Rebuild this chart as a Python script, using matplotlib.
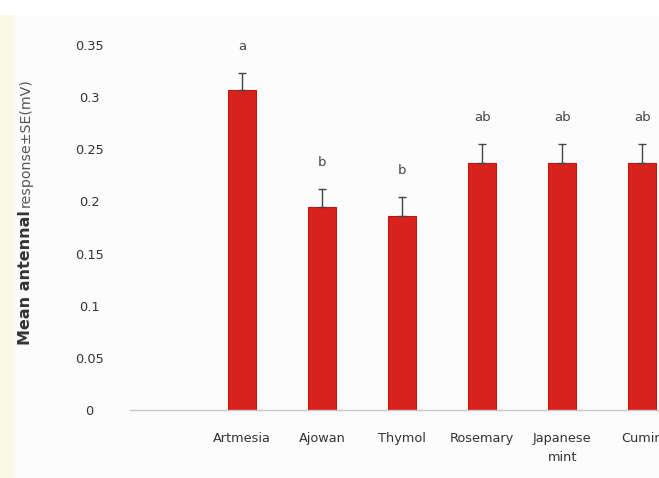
import numpy as np
import matplotlib
matplotlib.use("Agg")
import matplotlib.pyplot as plt
import matplotlib.patches as mpatches

# Mean antennal responses (EAG) to the essential oils
oils = ["Artmesia", "Ajowan", "Thymol", "Rosemary", "Japanese\nmint", "Cumin"]
response = [0.307, 0.195, 0.186, 0.237, 0.237, 0.237]
se = [0.016, 0.017, 0.018, 0.018, 0.018, 0.018]
groups = ["a", "b", "b", "ab", "ab", "ab"]
yticks = [0, 0.05, 0.1, 0.15, 0.2, 0.25, 0.3, 0.35]
ytick_labels = ["0", "0.05", "0.1", "0.15", "0.2", "0.25", "0.3", "0.35"]

plt.rcParams["font.family"] = ["DejaVu Sans"]

fig = plt.figure(figsize=(6.59, 4.78), dpi=100)
fig.patch.set_facecolor("#fcfcfc")
# pale strips along the edges of the page
fig.add_artist(mpatches.Rectangle((0, 0), 14 / 659, 1 - 14 / 478, transform=fig.transFigure,
                                  color="#f7f8e6", zorder=-5))
fig.add_artist(mpatches.Rectangle((0, 1 - 14 / 478), 1, 14 / 478, transform=fig.transFigure,
                                  color="#ffffff", zorder=-5))

ax = fig.add_axes([130 / 659, 68 / 478, 529 / 659, 365 / 478])
ax.set_facecolor("none")

x = np.arange(len(oils))
ax.bar(x, response, width=0.35, color="#d8231c", edgecolor="#b81812", linewidth=0.8, zorder=2)
ax.errorbar(x, response, yerr=[np.zeros(len(se)), se], fmt="none", ecolor="#444444",
            elinewidth=1.0, capsize=3, capthick=1.0, zorder=3)

for xi, v, e, g in zip(x, response, se, groups):
    ax.annotate(g, (xi, v + e), xytext=(0, 19), textcoords="offset points",
                ha="center", va="center", fontsize=9.5, color="#444444",
                annotation_clip=False)

ax.set_xlim(-1.4, 5.21)
ax.set_ylim(0, 0.35)
ax.set_yticks(yticks, labels=ytick_labels, ha="center")
ax.set_xticks(x, labels=oils, linespacing=1.6)

for side in ["top", "right", "left"]:
    ax.spines[side].set_visible(False)
ax.spines["bottom"].set_color("#c8c8c8")
ax.spines["bottom"].set_linewidth(1.0)

ax.tick_params(axis="y", length=0, pad=29, labelsize=9.3, labelcolor="#333333")
ax.tick_params(axis="x", length=0, pad=16, labelsize=9.3, labelcolor="#333333")

# y axis title, bold and regular parts
t1 = fig.text(26 / 659, (478 - 345) / 478, "Mean antennal", rotation=90, ha="center",
              va="bottom", fontsize=11.5, fontweight="bold", color="#333333")
ax.annotate("response±SE(mV)", xy=(0.5, 1.0), xycoords=t1, xytext=(0, 2),
            textcoords="offset points", rotation=90, ha="center",
            va="bottom", fontsize=10.2, color="#555555")

fig.savefig("out.png", dpi=100, facecolor=fig.get_facecolor())
